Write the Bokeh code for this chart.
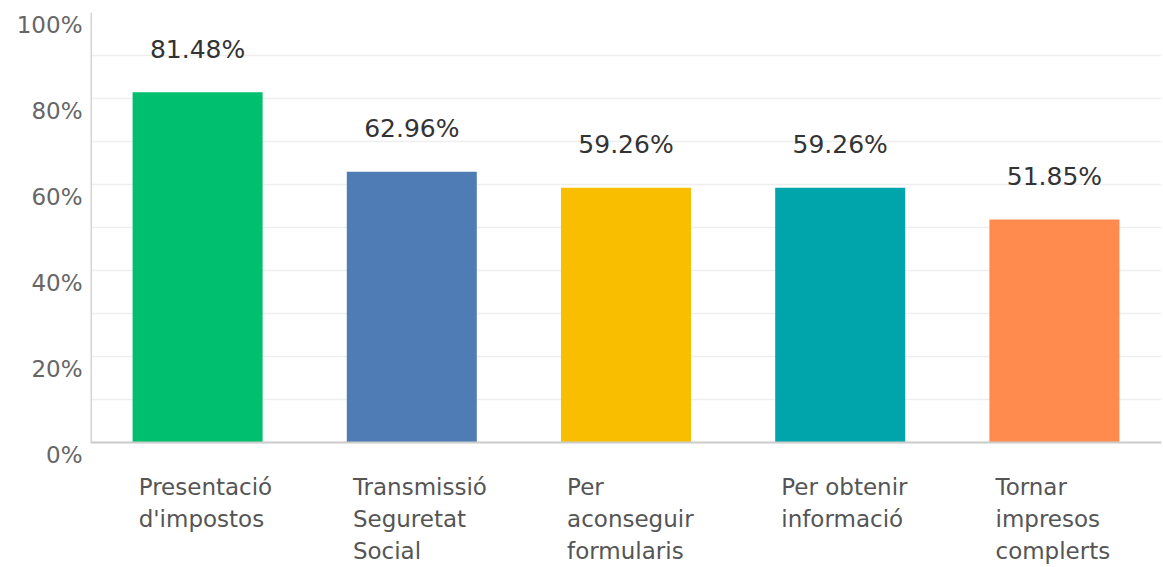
from bokeh.plotting import figure
from bokeh.models import ColumnDataSource, FactorRange, Range1d, FixedTicker, CustomJSTickFormatter, Span
from bokeh.transform import dodge
from bokeh.core.properties import value
from bokeh.embed import file_html
from bokeh.resources import INLINE

categories = ["Presentació d'impostos", "Transmissió Seguretat Social", "Per aconseguir formularis",
              "Per obtenir informació", "Tornar impresos complerts"]
label_lines = ["Presentació\nd'impostos", "Transmissió\nSeguretat\nSocial", "Per\naconseguir\nformularis",
               "Per obtenir\ninformació", "Tornar\nimpresos\ncomplerts"]
values = [81.48, 62.96, 59.26, 59.26, 51.85]
colors = ["#00BF6F", "#507CB6", "#F9BE00", "#00A4AB", "#FF8B4F"]
y_ticks = [0, 20, 40, 60, 80, 100]
y_minor = [10, 30, 50, 70, 90]

FONT = "DejaVu Sans"
LABEL_SHIFT = 3  # tick labels sit slightly below their grid lines (in axis units)

source = ColumnDataSource(dict(
    cat=categories,
    val=values,
    color=colors,
    vlabel=[f"{v:.2f}%" for v in values],
    clabel=label_lines,
    zero=[0] * len(values),
))

p = figure(width=1163, height=567, output_backend="svg", toolbar_location=None,
           x_range=FactorRange(factors=categories, range_padding=0),
           y_range=Range1d(-29.07, 100), x_axis_location=None,
           min_border_left=90, min_border_right=2, min_border_top=12, min_border_bottom=0)
p.outline_line_color = None
p.xgrid.grid_line_color = None

p.ygrid.ticker = FixedTicker(ticks=y_ticks, minor_ticks=y_minor)
p.ygrid.grid_line_color = "#eeeeee"
p.ygrid.minor_grid_line_color = "#eeeeee"
p.ygrid.grid_line_width = 1.5
p.ygrid.minor_grid_line_width = 1.5

yax = p.yaxis[0]
yax.ticker = FixedTicker(ticks=[t - LABEL_SHIFT for t in y_ticks], minor_ticks=[])
yax.formatter = CustomJSTickFormatter(args=dict(s=LABEL_SHIFT), code="return Math.round(tick + s) + '%';")
yax.axis_line_color = None
yax.major_tick_line_color = None
yax.major_tick_out = 0
yax.major_tick_in = 0
yax.minor_tick_line_color = None
yax.major_label_standoff = 8
yax.major_label_text_font = FONT
yax.major_label_text_font_size = "23px"
yax.major_label_text_color = "#666666"

# left axis line from 0% to 100%
axis_src = ColumnDataSource(dict(c=[categories[0]], y0=[y_ticks[0]], y1=[y_ticks[-1]]))
p.segment(x0=dodge("c", -0.5, range=p.x_range), y0="y0", x1=dodge("c", -0.5, range=p.x_range), y1="y1",
          source=axis_src, line_color="#d4d4d4", line_width=3)

p.add_layout(Span(location=0, dimension="width", line_color="#cccccc", line_width=2))

p.vbar(x="cat", top="val", width=0.607, fill_color="color", line_color=None, source=source)

p.text(x="cat", y="val", text="vlabel", source=source, y_offset=-43,
       text_align="center", text_baseline="middle",
       text_font=value(FONT), text_font_size="25px", text_color="#333333")

p.text(x=dodge("cat", -0.275, range=p.x_range), y="zero", text="clabel", source=source,
       y_offset=32, text_align="left", text_baseline="top", text_line_height=1.23,
       text_font=value(FONT), text_font_size="23px", text_color="#555555")

open("out.html", "w").write(file_html(p, INLINE))
